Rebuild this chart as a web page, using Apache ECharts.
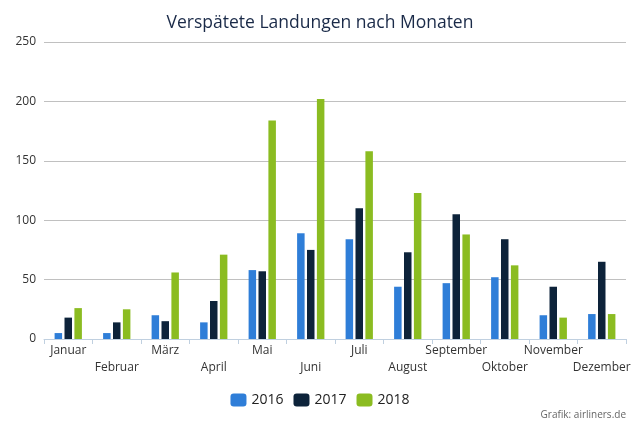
<!DOCTYPE html>
<html><head><meta charset="utf-8">
<script src="https://cdn.jsdelivr.net/npm/echarts@6/dist/echarts.min.js"></script>
<style>html,body{margin:0;padding:0;background:#fff}#c{width:640px;height:428px}</style>
</head><body><div id="c"></div>
<script>
var months = ['Januar','Februar','März','April','Mai','Juni','Juli','August','September','Oktober','November','Dezember'];
var s2016 = [5,5,20,14,58,89,84,44,47,52,20,21];
var s2017 = [18,14,15,32,57,75,110,73,105,84,44,65];
var s2018 = [26,25,56,71,184,202,158,123,88,62,18,21];
var yTicks = [0,50,100,150,200,250];
var font = 'Open Sans';
var chart = echarts.init(document.getElementById('c'));
function bar(name, data, color){
  return {name:name, type:'bar', data:data, barWidth:7.5, barGap:'32%',
    itemStyle:{color:color}};
}
chart.setOption({
  animation:false,
  textStyle:{fontFamily:font},
  title:{text:'Verspätete Landungen nach Monaten', left:'center', top:9,
    textStyle:{fontFamily:font, fontSize:17.5, fontWeight:'normal', color:'#1a2a48'}},
  grid:{left:44, right:14, top:42, bottom:89},
  legend:{bottom:16, left:'center', itemWidth:16, itemHeight:13, itemGap:10,
    icon:'roundRect', textStyle:{fontFamily:font, fontSize:14, color:'#222'}},
  graphic:[{type:'text', right:14, bottom:8, style:{text:'Grafik: airliners.de', fontFamily:font, fontSize:10, fill:'#666'}}],
  xAxis:{type:'category', data:months,
    axisLine:{lineStyle:{color:'#c0d0e0'}},
    axisTick:{show:true, length:5, lineStyle:{color:'#c0d0e0'}},
    axisLabel:{interval:0, color:'#333', fontSize:12, fontFamily:font, lineHeight:17, margin:3,
      formatter:function(v,i){return i%2? '\n'+v : v;}}},
  yAxis:{type:'value', min:yTicks[0], max:yTicks[yTicks.length-1], interval:50,
    axisLine:{show:false}, axisTick:{show:false},
    splitLine:{lineStyle:{color:'#c0c0c0'}},
    axisLabel:{color:'#333', fontSize:12, fontFamily:font, margin:8}},
  series:[bar('2016', s2016, '#2f7ed8'), bar('2017', s2017, '#0d233a'), bar('2018', s2018, '#8bbc21')]
});
</script></body></html>
